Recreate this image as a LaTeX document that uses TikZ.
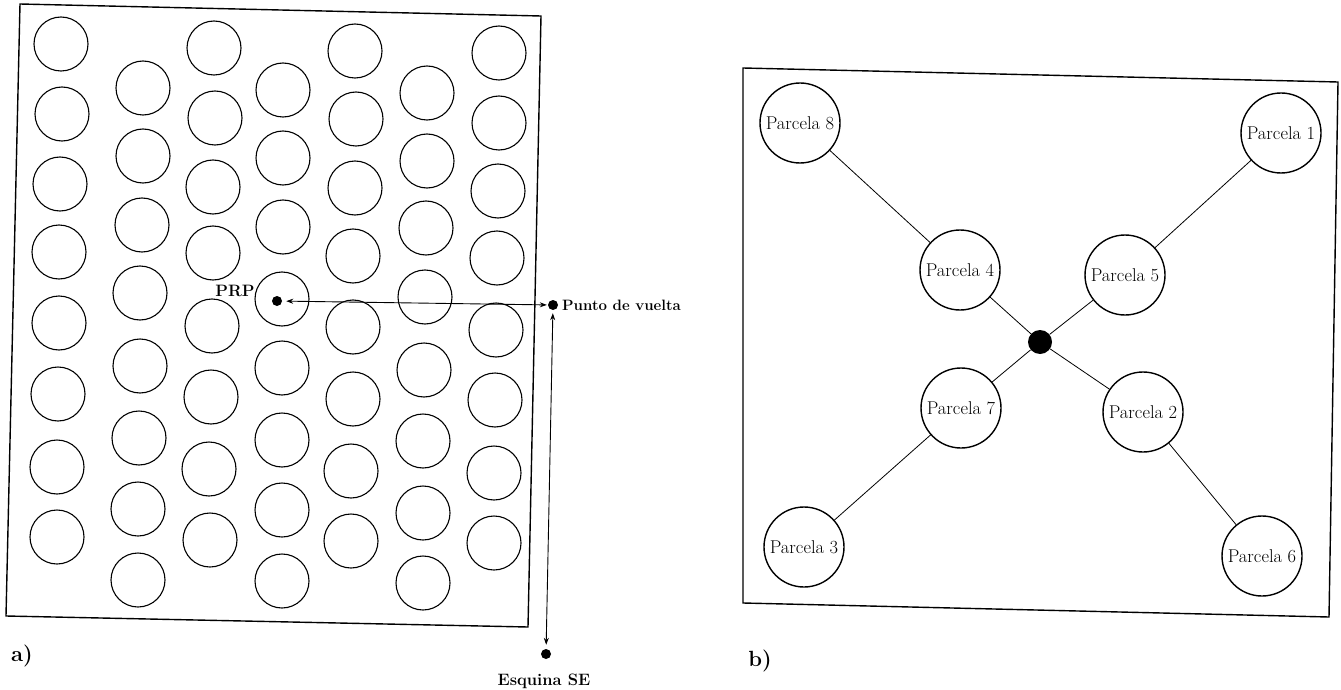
\documentclass[tikz,border=0pt]{standalone}
\usetikzlibrary{arrows.meta}
\begin{document}
\begin{tikzpicture}[x=1pt,y=-1pt,
  frame/.style={line width=1.4pt, line join=miter},
  tree/.style={circle, draw, line width=1.1pt, minimum size=54pt, inner sep=0pt},
  plot/.style={circle, draw, line width=1.4pt, minimum size=80pt, inner sep=0pt,
               font=\fontsize{18.5}{20}\selectfont},
  link/.style={line width=0.8pt},
  dot/.style={circle, fill=black, inner sep=0pt, minimum size=10pt},
  hub/.style={circle, fill=black, inner sep=0pt, minimum size=24pt},
  lbl/.style={font=\bfseries\fontsize{15}{17}\selectfont, inner sep=1pt},
  biglbl/.style={font=\bfseries\fontsize{16.5}{18}\selectfont, inner sep=1pt},
  panel/.style={font=\bfseries\fontsize{22}{24}\selectfont, inner sep=0pt},
  tip/.style={{Stealth[length=7pt,width=5pt]}-{Stealth[length=7pt,width=5pt]}, line width=0.9pt}]
\useasboundingbox (0,0) rectangle (1341,690);

% ---------- a) stand map ----------
\draw[frame] (20,4) -- (541,16) -- (528,627) -- (6,616) -- cycle;

\foreach \cx/\cy in {
  61/44, 62/114, 60/184, 59/252, 59/323, 58/394, 57/467, 57/537,
  143/88, 143/156, 142/225, 140/293, 140/366, 139/438, 138/509, 138/580,
  214/48, 215/118, 213/187, 213/253, 212/326, 211/397, 209/469, 210/540,
  283/90, 283/158, 283/227, 282/299, 282/368, 282/440, 282/510, 282/581,
  355/51, 356/119, 355/188, 353/256, 353/327, 353/399, 351/471, 351/541,
  427/93, 427/161, 426/228, 425/297, 424/370, 423/441, 423/513, 423/583,
  499/53, 499/123, 498/191, 497/258, 496/330, 495/400, 494/473, 494/543}
  \node[tree] at (\cx,\cy) {};

\node[dot] (prp) at (277,301) {};
\node[dot] (pv) at (553,305) {};
\node[dot] (se) at (546,654) {};

\node[biglbl] (prplbl) at (235,291) {PRP};
\node[lbl, anchor=west] (pvlbl) at (561,305) {Punto de vuelta};
\node[biglbl] (selbl) at (544,681) {Esquina SE};

\draw[tip, shorten <=1pt, shorten >=4pt] (pv) -- (prp);
\draw[tip, shorten <=3pt, shorten >=4pt] (pv) -- (se);

\node[panel] (la) at (22,656) {a)};

% ---------- b) plot layout ----------
\draw[frame] (743,68) -- (1338,82) -- (1329,617) -- (743,603) -- cycle;

\node[hub] (c) at (1040,342) {};
\node[plot] (p8) at (800,123) {Parcela 8};
\node[plot] (p1) at (1281,133) {Parcela 1};
\node[plot] (p4) at (960,270) {Parcela 4};
\node[plot] (p5) at (1125,275) {Parcela 5};
\node[plot] (p7) at (961,408) {Parcela 7};
\node[plot] (p2) at (1143,412) {Parcela 2};
\node[plot] (p3) at (804,547) {Parcela 3};
\node[plot] (p6) at (1262,556) {Parcela 6};

\draw[link] (p8) -- (p4);
\draw[link] (p4) -- (c);
\draw[link] (p1) -- (p5);
\draw[link] (p5) -- (c);
\draw[link] (c) -- (p7);
\draw[link] (p7) -- (p3);
\draw[link] (c) -- (p2);
\draw[link] (p2) -- (p6);

\node[panel] (lb) at (760,661) {b)};
\end{tikzpicture}
\end{document}
